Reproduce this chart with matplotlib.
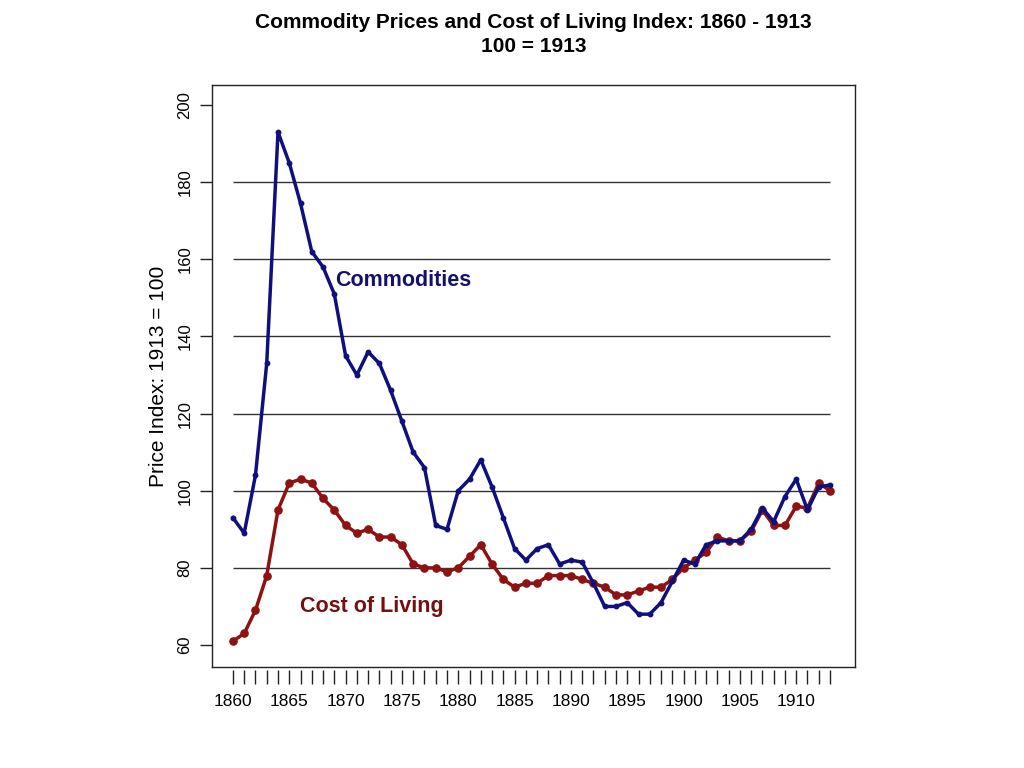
import numpy as np
import matplotlib
matplotlib.use('Agg')
import matplotlib.pyplot as plt

plt.rcParams['font.family'] = ['Liberation Sans', 'DejaVu Sans']

years = np.arange(1860, 1914)
commodities = [93, 89, 104, 133, 193, 185, 174.5, 162, 158, 151,
               135, 130, 136, 133, 126, 118, 110, 106, 91, 90,
               100, 103, 108, 101, 93, 85, 82, 85, 86, 81,
               82, 81.5, 76, 70, 70, 71, 68, 68, 71, 76.5,
               82, 81, 86, 87, 87, 87, 90, 95.5, 92, 98.5,
               103, 95, 101, 101.5]
cost_of_living = [61, 63, 69, 78, 95, 102, 103, 102, 98, 95,
                  91, 89, 90, 88, 88, 86, 81, 80, 80, 79,
                  80, 83, 86, 81, 77, 75, 76, 76, 78, 78,
                  78, 77, 76, 75, 73, 73, 74, 75, 75, 77,
                  80, 82, 84, 88, 87, 87, 89.5, 95, 91, 91,
                  96, 95.5, 102, 100]
y_ticks = [60, 80, 100, 120, 140, 160, 180, 200]
grid_vals = [80, 100, 120, 140, 160, 180]

blue = '#0f0f7e'
red = '#8e1212'

fig = plt.figure(figsize=(10.24, 7.68), dpi=100)
ax = fig.add_axes([0.207, 0.1315, 0.628, 0.7578])

ax.hlines(grid_vals, years[0], years[-1], color='#333333', lw=1, zorder=1)
ax.plot(years, cost_of_living, color=red, lw=2.5, marker='o', ms=5.2, zorder=3)
ax.plot(years, commodities, color=blue, lw=2.5, marker='o', ms=3.2, zorder=4)

ax.text(1869.06, 154.4, 'Commodities', color='#12126e', fontsize=15.5,
        fontweight='bold', ha='left', va='center')
ax.text(1865.95, 70.1, 'Cost of Living', color='#741010', fontsize=15.5,
        fontweight='bold', ha='left', va='center')

ax.set_xlim(1858.14, 1915.22)
ax.set_ylim(54.3, 205.19)

ax.set_yticks(y_ticks)
ax.set_yticklabels([str(v) for v in y_ticks], rotation=90, va='center')
ax.tick_params(axis='y', direction='out', length=9, width=1, pad=5,
               labelsize=12, color='#222222')
ax.set_ylabel('Price Index: 1913 = 100', fontsize=15, labelpad=7)

# R-style detached x axis: ticks hang a few px below the box
ax.tick_params(axis='x', bottom=False, labelbottom=False)
sec = ax.secondary_xaxis(-0.005)
sec.spines['bottom'].set_visible(False)
sec.set_xticks(years)
sec.set_xticklabels([str(y) if y % 5 == 0 else '' for y in years])
sec.tick_params(axis='x', direction='out', length=10, width=1, pad=7,
                labelsize=12.5, color='#222222')

for s in ax.spines.values():
    s.set_color('#222222')
    s.set_linewidth(1)

ax.set_title('Commodity Prices and Cost of Living Index: 1860 - 1913\n100 = 1913',
             fontsize=15, fontweight='bold', pad=24, linespacing=1.3)

fig.savefig('out.png', dpi=100)
